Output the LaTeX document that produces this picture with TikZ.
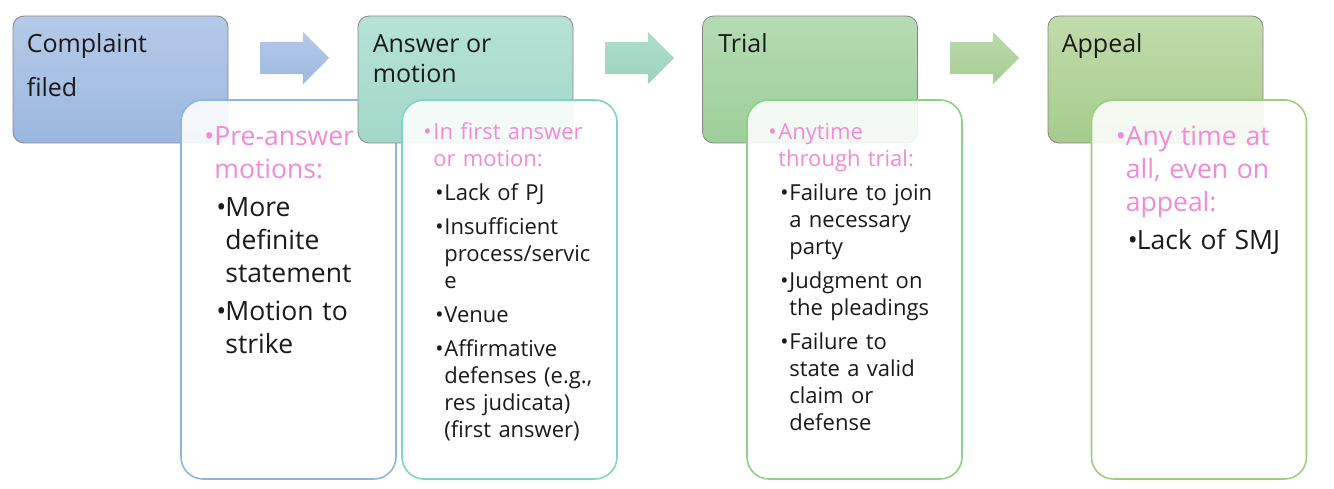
\documentclass[tikz,border=0pt]{standalone}
\usepackage{fontspec}
\setmainfont{Open Sans}
\usepackage{graphicx}
\usepackage{tikz}
\usetikzlibrary{shapes.arrows}

\definecolor{pinktxt}{HTML}{F08AD6}
\definecolor{inktxt}{HTML}{1A1A1A}
\definecolor{cfTop}{HTML}{B6CAE9}
\definecolor{cfBot}{HTML}{9AB7DF}
\definecolor{amTop}{HTML}{B6E2D6}
\definecolor{amBot}{HTML}{A2D8C8}
\definecolor{trTop}{HTML}{B5DBB3}
\definecolor{trBot}{HTML}{9DCE99}
\definecolor{apTop}{HTML}{C1DCAB}
\definecolor{apBot}{HTML}{A6CB8C}
\definecolor{cfLine}{HTML}{8DB4E2}
\definecolor{amLine}{HTML}{80D3C0}
\definecolor{trLine}{HTML}{8DD08A}
\definecolor{apLine}{HTML}{9FCC7F}
\definecolor{arOneTop}{HTML}{B3C9EA}
\definecolor{arOneBot}{HTML}{9DB8E0}
\definecolor{arTwoTop}{HTML}{AFDDCB}
\definecolor{arTwoBot}{HTML}{9BD4BE}
\definecolor{arThreeTop}{HTML}{BBD9AC}
\definecolor{arThreeBot}{HTML}{A7CD94}

\newcommand{\bulletmark}{\textbullet}
% first (pink) point of a card, no \par before it
\newcommand{\pinkpt}[1]{\noindent\hangindent=10pt\hangafter=1%
  {\color{pinktxt}\makebox[10pt][l]{\bulletmark}#1}}
\newcommand{\blackpt}[1]{\par\noindent\hangindent=21pt\hangafter=1%
  \hspace*{12pt}\makebox[9pt][l]{\bulletmark}#1}

\tikzset{
  stagebox/.style={draw=gray!95, line width=0.8pt, rounded corners=11pt,
    minimum width=215pt, minimum height=127pt},
  detailcard/.style={line width=1.6pt, rounded corners=22pt, fill=white,
    fill opacity=0.88, minimum width=215pt, minimum height=379pt},
  flowarrow/.style={single arrow, draw=none, inner sep=0pt, text width=0pt,
    text height=32pt, text depth=0pt, minimum height=69pt,
    single arrow head extend=10pt, single arrow head indent=0pt},
  headtext/.style={anchor=north west, inner sep=0pt, align=left,
    text=inktxt, font=\fontsize{25pt}{30pt}\selectfont},
  cardtext/.style={anchor=north west, inner sep=0pt, text width=190pt,
    align=left, text=inktxt},
  bigtext/.style={font=\fontsize{26.5pt}{33pt}\selectfont},
  smalltext/.style={font=\fontsize{22pt}{27pt}\selectfont},
}

\begin{document}
\begin{tikzpicture}[x=1pt, y=-1pt]
    \useasboundingbox (0, 0) rectangle (1334, 489);

    % stage 1
    \node[stagebox, top color=cfTop, bottom color=cfBot] at (120.5, 79.5) (CF) {};
    \node[headtext] at ([shift={(14, 16)}]CF.north west) (CFt) {\rule{0pt}{21pt}Complaint\\[14pt]filed};
    \node[detailcard, draw=cfLine] at (288.5, 289.5) (CFd) {};
    \node[cardtext, bigtext] at ([shift={(24, 24)}]CFd.north west) (CFl) {%
      \setlength{\parskip}{5pt}%
      \pinkpt{\rule{0pt}{22pt}Pre-answer\newline motions:}
      \blackpt{More\newline definite\newline statement}
      \blackpt{Motion to\newline strike}\par};

    % stage 2
    \node[stagebox, top color=amTop, bottom color=amBot] at (465.5, 79.5) (AM) {};
    \node[headtext] at ([shift={(15, 16)}]AM.north west) (AMt) {\rule{0pt}{21pt}Answer or\\motion};
    \node[detailcard, draw=amLine] at (509.5, 289.5) (AMd) {};
    \node[cardtext, smalltext] at ([shift={(22, 22)}]AMd.north west) (AMl) {%
      \setlength{\parskip}{7pt}%
      \pinkpt{\rule{0pt}{18pt}In first answer\newline or motion:}
      \blackpt{Lack of PJ}
      \blackpt{Insufficient\newline process/servic\newline e}
      \blackpt{Venue}
      \blackpt{Affirmative\newline defenses (e.g.,\newline res judicata)\newline (first answer)}\par};

    % stage 3
    \node[stagebox, top color=trTop, bottom color=trBot] at (810, 79.5) (TR) {};
    \node[headtext] at ([shift={(16, 16)}]TR.north west) (TRt) {\rule{0pt}{21pt}Trial};
    \node[detailcard, draw=trLine] at (854.5, 289.5) (TRd) {};
    \node[cardtext, smalltext] at ([shift={(22, 22)}]TRd.north west) (TRl) {%
      \setlength{\parskip}{7pt}%
      \pinkpt{\rule{0pt}{18pt}Anytime\newline through trial:}
      \blackpt{Failure to join\newline a necessary\newline party}
      \blackpt{Judgment on\newline the pleadings}
      \blackpt{Failure to\newline state a valid\newline claim or\newline defense}\par};

    % stage 4
    \node[stagebox, top color=apTop, bottom color=apBot] at (1155.5, 79.5) (AP) {};
    \node[headtext] at ([shift={(14, 16)}]AP.north west) (APt) {\rule{0pt}{21pt}Appeal};
    \node[detailcard, draw=apLine] at (1199, 289.5) (APd) {};
    \node[cardtext, bigtext] at ([shift={(25, 24)}]APd.north west) (APl) {%
      \setlength{\parskip}{5pt}%
      \pinkpt{\rule{0pt}{22pt}Any time at\newline all, even on\newline appeal:}
      \blackpt{Lack of SMJ}\par};

    % arrows between stages
    \node[flowarrow, top color=arOneTop, bottom color=arOneBot] at (286.5, 58) (A1) {};
    \node[flowarrow, top color=arTwoTop, bottom color=arTwoBot] at (631.5, 58) (A2) {};
    \node[flowarrow, top color=arThreeTop, bottom color=arThreeBot] at (976.5, 58) (A3) {};
\end{tikzpicture}
\end{document}
